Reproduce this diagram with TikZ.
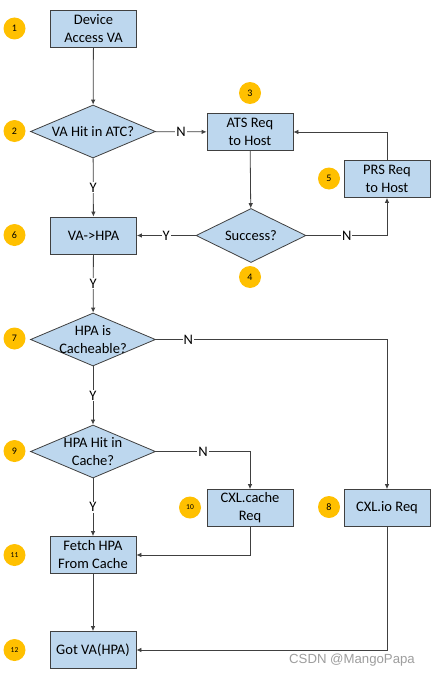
\documentclass[tikz,border=0pt]{standalone}
\usepackage{fontspec}
\setmainfont{Carlito}
\newfontfamily\wmfont{Liberation Sans}
\usetikzlibrary{shapes.geometric,arrows.meta}
\definecolor{boxfill}{HTML}{BDD7EE}
\definecolor{edgec}{HTML}{404040}
\definecolor{gold}{HTML}{FFC000}
\begin{document}
\begin{tikzpicture}[x=1pt,y=-1pt,
 mainfont/.style={font=\fontsize{14.5}{18}\selectfont},
 box/.style={draw=edgec, fill=boxfill, line width=0.8pt, minimum width=86pt, minimum height=37pt, align=center, inner sep=0pt, mainfont},
 dia/.style={draw=edgec, fill=boxfill, line width=0.8pt, shape=diamond, shape aspect=2.4, minimum width=125pt, minimum height=53pt, inner xsep=-10pt, inner ysep=-6pt, align=center, mainfont},
 num/.style={circle, fill=gold, minimum size=22pt, inner sep=0pt, font=\fontsize{10}{10}\selectfont},
 numsmall/.style={num, font=\fontsize{7.5}{8}\selectfont},
 arr/.style={draw=edgec, line width=0.8pt, -{Latex[length=5pt,width=4.5pt]}},
 lab/.style={fill=white, inner sep=1pt, mainfont}]
\useasboundingbox (0,0) rectangle (432,677);
\fill[white] (0,0) rectangle (432,677);

\node[box] (dev) at (93.5,28.5) {Device\\Access VA};
\node[dia] (d2) at (93,131.5) {VA Hit in ATC?};
\node[box] (ats) at (250,132) {ATS Req\\to Host};
\node[box] (prs) at (387,179) {PRS Req\\to Host};
\node[dia, minimum width=110pt, minimum height=54pt] (succ) at (251,235.5) {Success?};
\node[box] (v2h) at (93.5,235.5) {VA->HPA};
\node[dia] (d7) at (93,339.5) {HPA is\\Cacheable?};
\node[dia] (d9) at (93,451.5) {HPA Hit in\\Cache?};
\node[box] (cxlc) at (250,508) {CXL.cache\\Req};
\node[box] (cxlio) at (387,508) {CXL.io Req};
\node[box] (fetch) at (93,555) {Fetch HPA\\From Cache};
\node[box] (got) at (93,650) {Got VA(HPA)};

\node[num] (n1) at (14.5,28.5) {1};
\node[num] (n2) at (14.5,131) {2};
\node[num] (n3) at (250,93) {3};
\node[num] (n4) at (250,277) {4};
\node[num] (n5) at (329,178.5) {5};
\node[num] (n6) at (14.5,235) {6};
\node[num] (n7) at (14.5,338.5) {7};
\node[num] (n8) at (329,507) {8};
\node[num] (n9) at (14.5,451) {9};
\node[numsmall] (n10) at (190,507.5) {10};
\node[numsmall] (n11) at (14.5,555) {11};
\node[numsmall] (n12) at (14.5,650) {12};

\draw[arr] (dev) -- (d2);
\draw[arr] (d2) -- node[lab]{N} (ats);
\draw[arr] (d2) -- node[lab]{Y} (v2h);
\draw[arr] (ats) -- (succ);
\draw[arr] (succ.east) -- node[lab]{N} (prs.south |- succ.east) -- (prs.south);
\draw[arr] (prs.north) |- (ats.east);
\draw[arr] (succ) -- node[lab]{Y} (v2h);
\draw[arr] (v2h) -- node[lab]{Y} (d7);
\draw[arr] (d7.east) -- node[lab,pos=0.14]{N} (cxlio.north |- d7.east) -- (cxlio.north);
\draw[arr] (d7) -- node[lab]{Y} (d9);
\draw[arr] (d9.east) -- node[lab]{N} (cxlc.north |- d9.east) -- (cxlc.north);
\draw[arr] (d9) -- node[lab]{Y} (fetch);
\draw[arr] (cxlc.south) |- (fetch.east);
\draw[arr] (fetch) -- (got);
\draw[arr] (cxlio.south) |- (got.east);

\node[text=black!38, font=\wmfont\fontsize{13.2}{15}\selectfont] (wm) at (352,660) {CSDN @MangoPapa};
\end{tikzpicture}
\end{document}
